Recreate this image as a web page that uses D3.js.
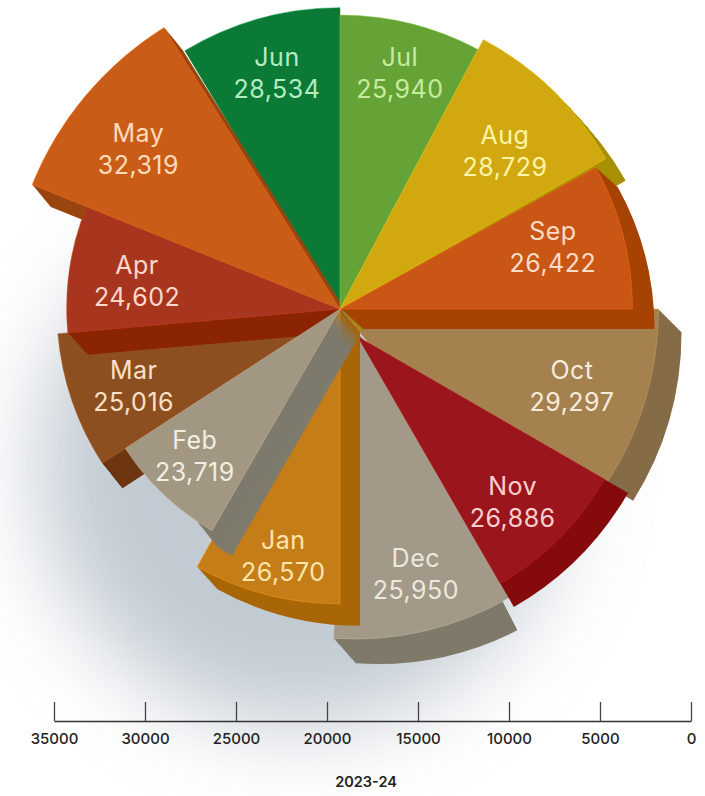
<!DOCTYPE html>
<html>
<head>
<meta charset="utf-8">
<script src="https://cdn.jsdelivr.net/npm/d3@7"></script>
<style>
html,body{margin:0;padding:0;background:#fff}
svg{display:block}
text{font-family:Inter,"Open Sans",sans-serif}
</style>
</head>
<body>
<svg id="c" width="705" height="796"></svg>
<script>
const months = ["Jul","Aug","Sep","Oct","Nov","Dec","Jan","Feb","Mar","Apr","May","Jun"];
const values = [25940,28729,26422,29297,26886,25950,26570,23719,25016,24602,32319,28534];
const axisTicks = [35000,30000,25000,20000,15000,10000,5000,0];
const axisTitle = "2023-24";

const faceColors = {Jul:"#66a336",Aug:"#d1a80f",Sep:"#c95614",Oct:"#a5814f",Nov:"#9b161c",Dec:"#a29988",Jan:"#c57e17",Feb:"#a29782",Mar:"#8e4f20",Apr:"#a8361f",May:"#c95c16",Jun:"#0b7a36"};
const sideColors = {Jul:"#3f7e30",Aug:"#a89005",Sep:"#a64302",Oct:"#866b47",Nov:"#850a0c",Dec:"#7f7969",Jan:"#a86606",Feb:"#7e7a6c",Mar:"#6e3610",Apr:"#8a2402",May:"#9a4510"};
const textColors = {Jul:"#c6eca0",Aug:"#fff4a8",Sep:"#ffdcc6",Oct:"#f6ecdc",Nov:"#fbd0d0",Dec:"#ece8de",Jan:"#ffe4ae",Feb:"#f2eee2",Mar:"#fde0c8",Apr:"#ffd9cc",May:"#ffdcbc",Jun:"#b4ecc4"};

// geometry of the wedges: angles in degrees clockwise from north
const cx = 340, cy = 309;
const geom = {
  Jun:{a:[329,360],dr:3,  label:[345.1,245]},
  May:{a:[292,328],dr:-2, ext:[18,22], label:[308.6,258]},
  Apr:{a:[265,296],dr:12, ext:[20,22], label:[278.1,205]},
  Mar:{a:[237,265],dr:18, ext:[20,25], label:[249.7,220]},
  Feb:{a:[210,237],dr:3,  ext:[20,25], extRange:[210,214], label:[224.8,206]},
  Jan:{a:[180,209],dr:15, ext:[20,22], label:[193,252]},
  Dec:{a:[150,184],dr:35, ext:[22,25], extRange:[153,184], off:[15,21], label:[164,275]},
  Nov:{a:[120,150],dr:2,  rim:27, off:[18,28], label:[138,258]},
  Oct:{a:[90,140],dr:13,  ext:[23,23], extRange:[90,122], label:[108.1,244]},
  Sep:{a:[61,90],dr:14,   ext:[22,20], label:[73.5,222]},
  Aug:{a:[28,60.5],dr:5,  ext:[20,22], label:[46.1,229]},
  Jul:{a:[0,28],dr:20,    ext:[22,22], label:[14.2,244]}
};
// paint order, back to front
const paintOrder = ["Jun","May-side","Mar","Apr","May-face","Dec","Oct","Nov","Jan","Feb","Jul","Aug","Sep"];

const svg = d3.select("#c");
const defs = svg.append("defs");
defs.append("filter").attr("id","soft").attr("x","-50%").attr("y","-50%").attr("width","200%").attr("height","200%")
  .append("feGaussianBlur").attr("stdDeviation",45);

svg.append("ellipse").attr("cx",300).attr("cy",465).attr("rx",262).attr("ry",262)
  .attr("fill","#93a2b0").attr("opacity",0.56).attr("filter","url(#soft)");

const byMonth = new Map(months.map((m,i)=>[m,values[i]]));
const rScale = d3.scaleLinear().domain([23719,32319]).range([253,334]);
const rad = d3.scaleLinear().domain([0,360]).range([0,2*Math.PI]);
const arc = d3.arc().innerRadius(0);
const chart = svg.append("g");

function wedge(m, a0, a1, extra){
  const g = geom[m];
  return arc({startAngle:rad(a0),endAngle:rad(a1),outerRadius:rScale(byMonth.get(m))+g.dr+(extra||0)});
}
function origin(m){
  const o = geom[m].off || [0,0];
  return [cx+o[0],cy+o[1]];
}
function drawSide(m){
  const g = geom[m]; if(!g.ext) return;
  const [ox,oy] = origin(m);
  const range = g.extRange || g.a;
  const d = wedge(m,range[0],range[1]);
  const n = Math.ceil(Math.hypot(g.ext[0],g.ext[1]));
  chart.append("g").attr("class","side").selectAll("path").data(d3.range(1,n+1)).join("path")
    .attr("d",d).attr("fill",sideColors[m])
    .attr("transform",t=>`translate(${ox+g.ext[0]*t/n},${oy+g.ext[1]*t/n})`);
}
function drawFace(m){
  const g = geom[m];
  const [ox,oy] = origin(m);
  const w = chart.append("g").attr("transform",`translate(${ox},${oy})`);
  if(g.rim) w.append("path").attr("d",wedge(m,g.a[0],g.a[1],g.rim)).attr("fill",sideColors[m]);
  w.append("path").attr("d",wedge(m,g.a[0],g.a[1])).attr("fill",faceColors[m])
    .attr("stroke",d3.color(faceColors[m]).brighter(0.7)).attr("stroke-opacity",0.45).attr("stroke-width",1);
}
paintOrder.forEach(k=>{
  if(k==="May-side") drawSide("May");
  else if(k==="May-face") drawFace("May");
  else { drawSide(k); drawFace(k); }
});

// labels
const labels = svg.append("g").attr("text-anchor","middle").attr("font-size",25).attr("letter-spacing",0.5);
months.forEach((m,i)=>{
  const [ang,r] = geom[m].label;
  const x = cx + r*Math.sin(rad(ang)), y = cy+1 - r*Math.cos(rad(ang));
  labels.append("text").attr("x",x).attr("y",y-7).attr("fill",textColors[m]).text(m);
  labels.append("text").attr("x",x).attr("y",y+25).attr("fill",textColors[m]).text(d3.format(",")(values[i]));
});

// axis
const xScale = d3.scaleLinear().domain([35000,0]).range([54,691]);
const axis = d3.axisBottom(xScale).tickValues(axisTicks).tickFormat(d3.format("d"))
  .tickSizeInner(-19).tickSizeOuter(0).tickPadding(10);
const ax = svg.append("g").attr("transform","translate(0,721)").call(axis);
ax.select(".domain").attr("stroke","#333").attr("stroke-width",1.6);
ax.selectAll(".tick line").attr("stroke","#444").attr("stroke-width",1.3);
ax.selectAll(".tick text").attr("y",12).attr("font-size",15).attr("font-weight",500)
  .attr("font-family","Inter,sans-serif").attr("fill","#222");
svg.append("text").attr("x",366).attr("y",787).attr("text-anchor","middle")
  .attr("font-size",14.5).attr("font-weight",600).attr("fill","#222").text(axisTitle);
</script>
</body>
</html>
